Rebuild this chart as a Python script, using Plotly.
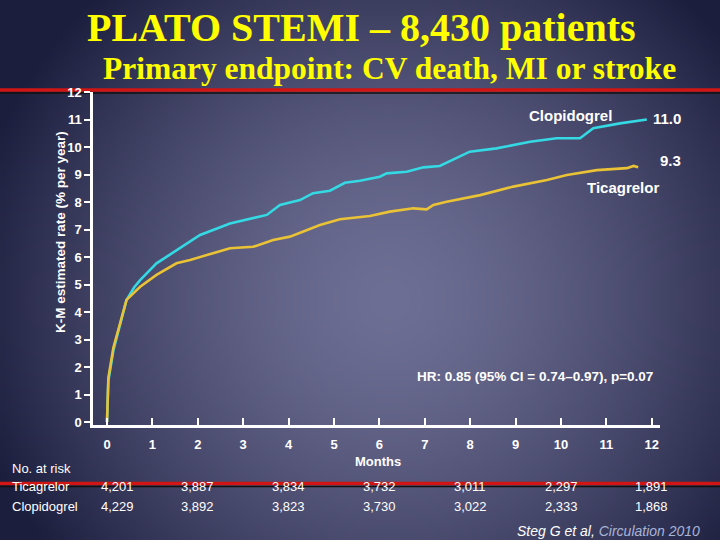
import base64, zlib, struct
import numpy as np
import plotly.graph_objects as go

# ---------------- data ----------------
clop_months = [0, 0.03, 0.14, 0.29, 0.43, 0.6, 0.73, 1.09, 1.53, 2.05, 2.71, 3.08, 3.52, 3.81,
               4.25, 4.54, 4.91, 5.24, 5.57, 6.01, 6.16, 6.6, 6.97, 7.33, 7.99, 8.58, 9.32,
               9.9, 10.42, 10.71, 11.3, 11.89]
clop_rate = [0, 1.5, 2.6, 3.6, 4.44, 4.9, 5.16, 5.77, 6.25, 6.8, 7.22, 7.35, 7.53, 7.89,
             8.07, 8.32, 8.41, 8.7, 8.77, 8.92, 9.04, 9.1, 9.26, 9.31, 9.83, 9.95, 10.19,
             10.32, 10.32, 10.68, 10.86, 11.0]
tica_months = [0, 0.03, 0.14, 0.29, 0.43, 0.73, 1.09, 1.53, 1.83, 2.2, 2.71, 3.22, 3.66, 4.03,
               4.4, 4.69, 5.13, 5.79, 6.23, 6.75, 7.04, 7.19, 7.48, 8.22, 8.95, 9.69, 10.13,
               10.79, 11.45, 11.6, 11.7]
tica_rate = [0, 1.6, 2.7, 3.65, 4.44, 4.92, 5.35, 5.77, 5.89, 6.07, 6.32, 6.37, 6.62, 6.74,
             6.98, 7.16, 7.37, 7.49, 7.65, 7.77, 7.73, 7.89, 8.01, 8.25, 8.56, 8.8, 8.98,
             9.16, 9.23, 9.31, 9.26]
x_ticks = list(range(0, 13))
y_ticks = list(range(0, 13))
risk_months = [0, 2, 4, 6, 8, 10, 12]
risk_tica = ["4,201", "3,887", "3,834", "3,732", "3,011", "2,297", "1,891"]
risk_clop = ["4,229", "3,892", "3,823", "3,730", "3,022", "2,333", "1,868"]

# ---------------- background gradient (png) ----------------
W, H = 180, 135
xs = (np.arange(W) + 0.5) * 720 / W
ys = (np.arange(H) + 0.5) * 540 / H
X, Y = np.meshgrid(xs, ys)
r = np.sqrt(((X - 390) / 430) ** 2 + ((Y - 300) / 420) ** 2)
t = np.clip(r, 0, 1) ** 1.5
center = np.array([110, 111, 148], dtype=float)
edge = np.array([28, 30, 62], dtype=float)
img = (center[None, None, :] * (1 - t[..., None]) + edge[None, None, :] * t[..., None]).astype(np.uint8)

def png_bytes(arr):
    h, w, _ = arr.shape
    raw = b"".join(b"\x00" + arr[i].tobytes() for i in range(h))
    def chunk(tag, data):
        c = struct.pack(">I", len(data)) + tag + data
        return c + struct.pack(">I", zlib.crc32(tag + data) & 0xffffffff)
    return (b"\x89PNG\r\n\x1a\n" + chunk(b"IHDR", struct.pack(">IIBBBBB", w, h, 8, 2, 0, 0, 0))
            + chunk(b"IDAT", zlib.compress(raw, 9)) + chunk(b"IEND", b""))

bg_src = "data:image/png;base64," + base64.b64encode(png_bytes(img)).decode()

# ---------------- geometry helpers ----------------
L, R, T, B = 93, 660, 92, 425
PW, PH = R - L, B - T

def px(xp):
    return (xp - L) / PW

def py(yp):
    return (B - yp) / PH

fig = go.Figure()
fig.add_trace(go.Scatter(x=clop_months, y=clop_rate, mode="lines",
                         line=dict(color="#34d9e4", width=2.6), name="Clopidogrel",
                         showlegend=False, hoverinfo="skip"))
fig.add_trace(go.Scatter(x=tica_months, y=tica_rate, mode="lines",
                         line=dict(color="#e9c235", width=2.6), name="Ticagrelor",
                         showlegend=False, hoverinfo="skip"))

white = "#ffffff"
ann = []
def A(text, x, y, size, color=white, family="Liberation Sans", bold=False, italic=False,
      xanchor="center", angle=0):
    t = text
    if bold:
        t = "<b>" + t + "</b>"
    if italic:
        t = "<i>" + t + "</i>"
    ann.append(dict(text=t, x=px(x), y=py(y), xref="paper", yref="paper", showarrow=False,
                    xanchor=xanchor, yanchor="middle", textangle=angle,
                    font=dict(size=size, color=color, family=family)))

# titles
A("PLATO STEMI – 8,430 patients", 361, 28, 40, color="#ffff00", family="Liberation Serif", bold=True)
A("Primary endpoint: CV death, MI or stroke", 389, 69, 31.5, color="#ffff00", family="Liberation Serif", bold=True)

# y-axis title
A("K-M estimated rate (% per year)", 60, 232, 13.5, bold=True, angle=-90)

# curve labels
A("Clopidogrel", 570, 115, 15, bold=True)
A("11.0", 667, 119, 15, bold=True)
A("9.3", 670, 160, 15, bold=True)
A("Ticagrelor", 623, 187, 15, bold=True)
A("HR: 0.85 (95% CI = 0.74–0.97), p=0.07", 535, 376, 13.5, bold=True)
A("Months", 378, 461, 13, bold=True)

# number at risk
A("No. at risk", 10, 469, 13, xanchor="left")
A("Ticagrelor", 10, 486, 13, xanchor="left")
A("Clopidogrel", 10, 506, 13, xanchor="left")
for m, a, b in zip(risk_months, risk_tica, risk_clop):
    xc = 107 + 45.4 * m
    if m == 0:
        xc = 117
    A(a, xc, 486, 13)
    A(b, xc, 506, 13)

# citation
A("Steg G et al, <span style='color:#a8b4d6'>Circulation 2010</span>", 608, 531, 14, italic=True)

shapes = [
    dict(type="line", xref="paper", yref="paper", x0=px(0), x1=px(720), y0=py(90), y1=py(90),
         line=dict(color="#d01515", width=3.5), layer="below"),
    dict(type="line", xref="paper", yref="paper", x0=px(0), x1=px(720), y0=py(93), y1=py(93),
         line=dict(color="#101010", width=1.5), layer="below"),
    dict(type="line", xref="paper", yref="paper", x0=px(0), x1=px(720), y0=py(483.5), y1=py(483.5),
         line=dict(color="#d01515", width=3.5), layer="below"),
    dict(type="line", xref="paper", yref="paper", x0=px(0), x1=px(720), y0=py(486.5), y1=py(486.5),
         line=dict(color="#101010", width=1.5), layer="below"),
]

fig.update_layout(
    width=720, height=540,
    margin=dict(l=L, r=720 - R, t=T, b=540 - B, pad=0),
    paper_bgcolor="#2a2c55", plot_bgcolor="rgba(0,0,0,0)",
    images=[dict(source=bg_src, xref="paper", yref="paper", x=px(0), y=py(0),
                 sizex=720 / PW, sizey=540 / PH, sizing="stretch", xanchor="left",
                 yanchor="top", layer="below")],
    annotations=ann, shapes=shapes,
    xaxis=dict(range=[(L - 107) / 45.4, (R - 107) / 45.4], tickvals=x_ticks,
               ticktext=["<b>%d</b>" % v for v in x_ticks],
               ticks="inside", ticklen=7, tickwidth=2, tickcolor=white,
               showline=True, linecolor=white, linewidth=2.5, showgrid=False, zeroline=False,
               tickfont=dict(size=13, color=white, family="Liberation Sans"),
               ticklabelstandoff=6),
    yaxis=dict(range=[(422 - B) / 27.5, (422 - T) / 27.5], tickvals=y_ticks,
               ticktext=["<b>%d</b>" % v for v in y_ticks],
               ticks="outside", ticklen=6, tickwidth=2, tickcolor=white,
               showline=True, linecolor=white, linewidth=2.5, showgrid=False, zeroline=False,
               tickfont=dict(size=13, color=white, family="Liberation Sans")),
)

fig.write_html("out.html", config={"displayModeBar": False},
               post_script="document.body.style.margin='0';")
